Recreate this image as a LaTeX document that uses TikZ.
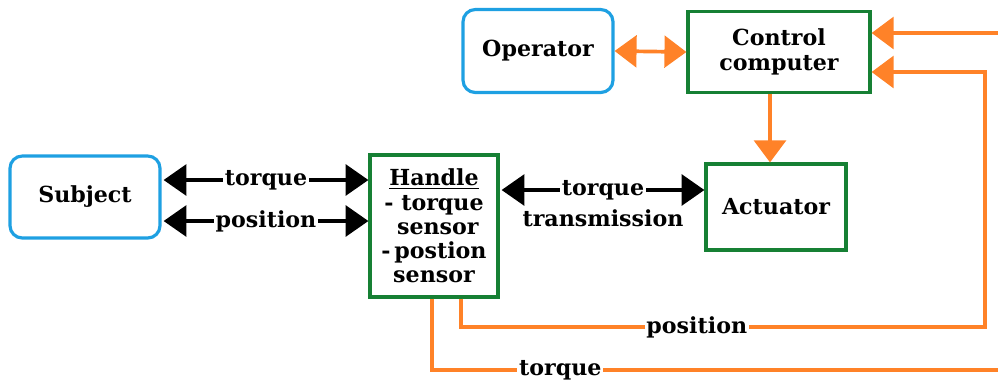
\documentclass[tikz,border=0pt]{standalone}
\usepackage{fontspec}
\setmainfont{DejaVu Serif}
\usetikzlibrary{calc,arrows.meta}

\definecolor{boxgreen}{RGB}{22,128,52}
\definecolor{boxblue}{RGB}{30,160,226}
\definecolor{wireorange}{RGB}{255,130,40}

\tikzset{
	person/.style={draw=boxblue, line width=1.8pt, rounded corners=7pt, fill=white},
	device/.style={draw=boxgreen, line width=1.8pt, fill=white},
	sig/.style={line width=2.3pt, black, {Triangle[length=13pt,width=17.5pt]}-{Triangle[length=13pt,width=17.5pt]}},
	fb/.style={line width=2.1pt, wireorange, line join=miter},
	fbhead/.style={-{Triangle[length=12.5pt,width=18pt]}},
	tag/.style={fill=white, inner sep=1pt}
}

\begin{document}
\begin{tikzpicture}[x=0.02cm, y=-0.02cm, font=\fontsize{12.6}{14.5}\selectfont\bfseries]
		%%%%% START %%%%%
		\useasboundingbox (0,0) rectangle (998,383);
		\clip (0,0) rectangle (998,383);
		
		\node[person, minimum width=150*0.02cm, minimum height=82*0.02cm] (subject) at (85,197) {Subject};
		\node[person, minimum width=150*0.02cm, minimum height=83*0.02cm] (operator) at (538,51) {Operator};
		\node[device, minimum width=182*0.02cm, minimum height=81*0.02cm, align=center] (control) at (779,52) {Control\\computer};
		\node[device, minimum width=128*0.02cm, minimum height=142*0.02cm, align=center, font=\fontsize{12.6}{13.8}\selectfont\bfseries] (handle) at (434,226) {\underline{Handle}\\- torque\\\ sensor\\-\,postion\\sensor};
		\node[device, minimum width=140*0.02cm, minimum height=86*0.02cm] (actuator) at (776,207) {Actuator};
		
		% subject <-> handle
		\coordinate (tq) at ($(subject.east)+(2,-17)$);
		\coordinate (ps) at ($(subject.east)+(2,24)$);
		\draw[sig] (tq) -- (handle.west |- tq) node[tag, midway] {torque};
		\draw[sig] (ps) -- (handle.west |- ps) node[tag, midway] {position};
		
		% handle <-> actuator
		\coordinate (tr) at ($(handle.east)+(2,-36)$);
		\draw[sig] (tr) -- (actuator.west |- tr)
			node[tag, midway] (trlabel) {torque}
			node[midway, yshift=-0.56cm] {transmission};
		
		% operator, control computer and actuator
		\draw[fb, {Triangle[length=12.5pt,width=18pt]}-{Triangle[length=12.5pt,width=18pt]}] (operator.east) -- (control.west);
		\coordinate (cd) at ($(control.south)+(-9,0)$);
		\draw[fb, fbhead] (cd) -- (actuator.north -| cd);
		
		% feedback from the handle sensors
		\coordinate (pfrom) at ($(handle.south)+(27,0)$);
		\coordinate (pto) at ($(control.east)+(0,20)$);
		\draw[fb, fbhead] (pfrom) -- (pfrom |- 0,327) coordinate (pa) -- (985,327) coordinate (pb) -- (pb |- pto) -- (pto);
		\node[tag] at ($(pa)!0.45!(pb)$) {position};
		
		\coordinate (tfrom) at ($(handle.south)+(-2,0)$);
		\coordinate (tto) at ($(control.east)+(0,-19)$);
		\draw[fb, fbhead] (tfrom) -- (tfrom |- 0,370) coordinate (ta) -- (1005,370) coordinate (tb) -- (tb |- tto) -- (tto);
		\node[tag] at ($(ta)!0.224!(tb)$) {torque};
		
		%%%%% END %%%%%
	\end{tikzpicture}
\end{document}
